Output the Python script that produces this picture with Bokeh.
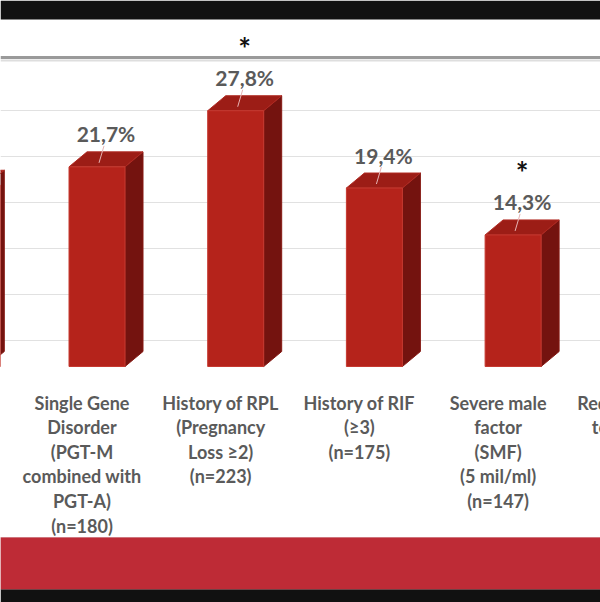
import math
from bokeh.plotting import figure
from bokeh.models import Range1d, BoxAnnotation
from bokeh.core.properties import value
from bokeh.embed import file_html
from bokeh.resources import INLINE

# ---------------- data ----------------
categories = [
    "",
    "Single Gene\nDisorder\n(PGT-M\ncombined with\nPGT-A)\n(n=180)",
    "History of RPL\n(Pregnancy\nLoss \u22652)\n(n=223)",
    "History of RIF\n(\u22653)\n(n=175)",
    "Severe male\nfactor\n(SMF)\n(5 mil/ml)\n(n=147)",
    "Requested due\nto previous",
]
rates = [19.7, 21.7, 27.8, 19.4, 14.3, None]       # % (first/last are cut off)
significant = [False, False, True, False, True, False]
grid_values = [0, 5, 10, 15, 20, 25]

# ---------------- geometry (reference pixels) ----------------
X_FIRST = 96.5      # px centre of category index 1 (front face)
STEP = 138.7        # px between categories
Y_ZERO = 366.0      # px of 0 % on front faces
PX_PCT = 9.2        # px per 1 %
REF_W, REF_H = 600, 602

def dx(px):
    return px / STEP

def dy(px):
    return px / PX_PCT

def y_at(ref_y):
    return (Y_ZERO - ref_y) / PX_PCT

x_lo = (0 - X_FIRST) / STEP + 1
x_hi = (REF_W - X_FIRST) / STEP + 1
y_lo = y_at(REF_H)
y_hi = y_at(0)

BAR_W = dx(56)
DEPTH_X = dx(18)
DEPTH_Y = dy(15)
WALL_SHIFT = dy(26)

FONT = value("Lato")
TXT = "#5a5a5a"

p = figure(width=600, height=602, x_range=Range1d(x_lo, x_hi), y_range=Range1d(y_lo, y_hi),
           output_backend="svg", toolbar_location=None, x_axis_type=None, y_axis_type=None,
           min_border=0, outline_line_color=None, background_fill_color="white",
           border_fill_color="white")
p.grid.visible = False

# back-wall gridlines
p.hspan(y=[g + WALL_SHIFT for g in grid_values], line_color="#e1e1e1", line_width=1)

# decorative slide elements
p.add_layout(BoxAnnotation(bottom=y_at(19), fill_color="#111111", fill_alpha=1, line_alpha=0))
p.add_layout(BoxAnnotation(top=y_at(537), bottom=y_at(589), fill_color="#BE2B36", fill_alpha=1,
                           line_color="#a8303a", line_width=1))
p.add_layout(BoxAnnotation(top=y_at(589), fill_color="#111111", fill_alpha=1, line_alpha=0))
p.hspan(y=[y_at(56.5)], line_color="#9a9a9a", line_width=3)
p.hspan(y=[y_at(59.5)], line_color="#dedede", line_width=2)

# ---------------- 3D bars ----------------
idx = [i for i, v in enumerate(rates) if v is not None]
vals = [rates[i] for i in idx]

side_xs = [[i + BAR_W / 2, i + BAR_W / 2 + DEPTH_X, i + BAR_W / 2 + DEPTH_X, i + BAR_W / 2] for i in idx]
side_ys = [[0, DEPTH_Y, v + DEPTH_Y, v] for v in vals]
top_xs = [[i - BAR_W / 2, i - BAR_W / 2 + DEPTH_X, i + BAR_W / 2 + DEPTH_X, i + BAR_W / 2] for i in idx]
top_ys = [[v, v + DEPTH_Y, v + DEPTH_Y, v] for v in vals]

p.patches(side_xs, side_ys, fill_color="#74130F", line_color="#861913", line_width=1)
p.patches(top_xs, top_ys, fill_color="#9C1D16", line_color="#b02a22", line_width=1)
p.vbar(x=idx, top=vals, bottom=0, width=BAR_W, fill_color="#B5231B", line_color="#c63a31", line_width=1)

# value labels + leader lines (only for categories whose label is shown)
lab_i = [i for i in idx if categories[i]]
lab_v = [rates[i] for i in lab_i]
lab_text = [f"{v:.1f}".replace(".", ",") + "%" for v in lab_v]
p.segment(x0=[i + dx(7) for i in lab_i], y0=[v + dy(21) for v in lab_v],
          x1=[i + dx(2) for i in lab_i], y1=[v + dy(4) for v in lab_v],
          line_color="#e6b4b4", line_width=1)
p.text(x=[i + dx(9) for i in lab_i], y=[v + dy(33) for v in lab_v], text=lab_text,
       text_font=FONT, text_font_style="bold", text_font_size="21px", text_color=TXT,
       text_align="center", text_baseline="middle")

# significance stars
sig_i = [i for i in idx if significant[i]]
sig_v = [rates[i] for i in sig_i]
p.text(x=[i + dx(9) for i in sig_i], y=[v + dy(63) for v in sig_v], text=["*"] * len(sig_i),
       text_font=FONT, text_font_style="bold", text_font_size="30px", text_color="#111111",
       text_align="center", text_baseline="middle")

# category labels
p.text(x=[i + dx(-15) for i in range(len(categories))], y=[y_at(391)] * len(categories),
       text=categories, text_font=FONT, text_font_style="bold", text_font_size="18px",
       text_color=TXT, text_align="center", text_baseline="top", text_line_height=1.12)

open("out.html", "w").write(file_html(p, INLINE))
